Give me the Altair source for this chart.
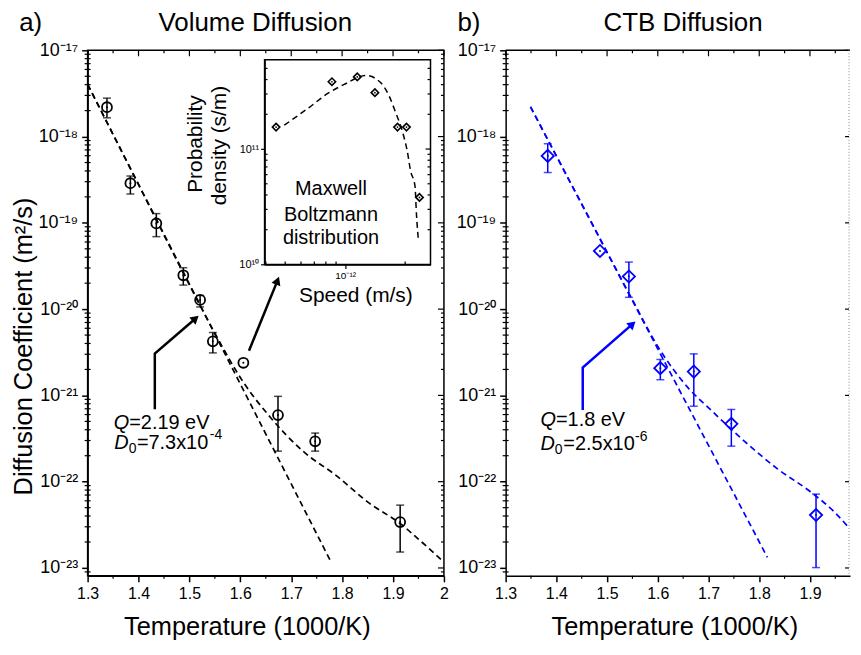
import altair as alt
import pandas as pd

FONT = "Liberation Sans"
BLUE = "#0000ff"

# ---------------- data: panel a (Volume diffusion) ----------------
a_T = [1.338, 1.384, 1.435, 1.488, 1.521, 1.546, 1.606, 1.674, 1.747, 1.914]
a_D = [2.19e-18, 2.88e-19, 9.84e-20, 2.47e-20, 1.28e-20, 4.23e-21, 2.39e-21, 5.92e-22, 2.94e-22, 3.40e-23]
a_lo = [1.65e-18, 2.16e-19, 6.92e-20, 1.90e-20, 1.06e-20, 3.11e-21, None, 2.26e-22, 2.26e-22, 1.53e-23]
a_hi = [2.79e-18, 3.49e-19, 1.28e-19, 3.02e-20, 1.44e-20, 5.36e-21, None, 9.75e-22, 3.66e-22, 5.35e-23]
a_fit_T = [1.300, 1.777]
a_fit_D = [4.03e-18, 1.21e-23]
a_curve_T = [1.300, 1.400, 1.500, 1.550, 1.606, 1.658, 1.723, 1.789, 1.854, 1.913, 1.958, 1.994]
a_curve_D = [4.03e-18, 2.77e-19, 1.91e-20, 5.25e-21, 1.42e-21, 5.66e-22, 2.26e-22, 1.17e-22,
             5.60e-23, 3.31e-23, 1.96e-23, 1.26e-23]
a_arrow1_T = [1.432, 1.432, 1.512]
a_arrow1_D = [6.93e-22, 3.05e-21, 7.80e-21]
a_arrow2_T = [1.617, 1.673]
a_arrow2_D = [3.30e-21, 2.14e-20]

# ---------------- data: panel b (CTB diffusion) ----------------
b_T = [1.383, 1.486, 1.543, 1.605, 1.671, 1.745, 1.912]
b_D = [5.97e-19, 4.72e-20, 2.39e-20, 2.07e-21, 1.89e-21, 4.68e-22, 4.11e-23]
b_lo = [3.83e-19, None, 1.37e-20, 1.52e-21, 7.50e-22, 2.58e-22, 1.01e-23]
b_hi = [8.26e-19, None, 3.51e-20, 2.61e-21, 3.03e-21, 6.87e-22, 7.18e-23]
b_fit_T = [1.349, 1.816]
b_fit_D = [2.21e-18, 1.33e-23]
b_curve_T = [1.349, 1.450, 1.550, 1.600, 1.659, 1.705, 1.771, 1.836, 1.901, 1.947, 1.977]
b_curve_D = [2.21e-18, 1.66e-19, 1.28e-20, 3.70e-21, 1.24e-21, 6.76e-22, 2.94e-22, 1.41e-22,
             7.64e-23, 4.53e-23, 2.92e-23]
b_arrow_T = [1.452, 1.452, 1.550]
b_arrow_D = [6.76e-22, 2.10e-21, 6.70e-21]

# ---------------- data: inset (Maxwell-Boltzmann) ----------------
ins_v = [4.50e-13, 8.58e-13, 1.15e-12, 1.41e-12, 1.83e-12, 2.03e-12, 2.36e-12]
ins_p = [1.55e11, 3.83e11, 4.22e11, 3.08e11, 1.55e11, 1.55e11, 3.81e10]
ins_curve_v = [4.95e-13, 6.61e-13, 8.17e-13, 9.89e-13, 1.27e-12, 1.51e-12, 1.66e-12, 1.79e-12,
               1.94e-12, 2.05e-12, 2.13e-12, 2.24e-12, 2.28e-12, 2.33e-12]
ins_curve_p = [1.61e11, 2.30e11, 3.03e11, 3.63e11, 4.34e11, 3.75e11, 2.89e11, 2.08e11,
               1.41e11, 9.53e10, 6.44e10, 4.80e10, 2.67e10, 1.63e10]

# ---------------- tick positions ----------------
xa_major = [1.3, 1.4, 1.5, 1.6, 1.7, 1.8, 1.9, 2.0]
xb_major = [1.3, 1.4, 1.5, 1.6, 1.7, 1.8, 1.9]
x_minor = [1.35, 1.45, 1.55, 1.65, 1.75, 1.85, 1.95]
y_major = [1e-23, 1e-22, 1e-21, 1e-20, 1e-19, 1e-18, 1e-17]
YMIN, YMAX = 8.11e-24, 1e-17
y_minor = [k * 10.0 ** n for n in range(-24, -17) for k in range(2, 10)]
y_minor = [v for v in y_minor if YMIN < v < YMAX]
ins_y_major = [1e10, 1e11]
ins_y_minor = [k * 1e10 for k in range(2, 10)] + [k * 1e11 for k in range(2, 6)]
ins_x_minor = [4e-13, 5e-13, 6e-13, 7e-13, 8e-13, 9e-13, 2e-12]

W_A, W_B, H = 358, 346, 528
F = H / 535.0  # vertical factor for in-plot pixel positions
ONE = pd.DataFrame({"a": [0]})

SUP = str.maketrans("-0123456789", "⁻⁰¹²³⁴⁵⁶⁷⁸⁹")


def pow_expr(exps):
    s = ""
    for e in exps:
        s += f"round(log(datum.value)/LN10) == {e} ? '10{str(e).translate(SUP)}' : "
    return s + "''"


YS = alt.Scale(type="log", domain=[YMIN, YMAX], nice=False)
YAX = alt.Axis(values=y_major, labelExpr=pow_expr(range(-23, -16)), labelFontSize=18,
               labelFont=FONT, tickSize=6, tickWidth=1.5, domainWidth=1.5, labelPadding=4,
               title=None, grid=False, labelFlush=False, labelOverlap=False, orient="left")


def xaxis(vals):
    return alt.Axis(values=vals, format=".1~f", labelFontSize=16, labelFont=FONT, tickSize=6,
                    tickWidth=1.5, domainWidth=1.5, labelPadding=4, title=None, grid=False,
                    labelFlush=False, labelOverlap=False, orient="bottom")


SC = {
    "a": (alt.Scale(domain=[1.3, 2.0], nice=False, zero=False), xaxis(xa_major), YS, YAX),
    "b": (alt.Scale(domain=[1.3, 1.979], nice=False, zero=False), xaxis(xb_major), YS, YAX),
    "i": (
        alt.Scale(type="log", domain=[3.94e-13, 2.68e-12], range=[177.8, 344.5], nice=False),
        alt.Axis(orient="bottom", offset=-(H - 218 * F), values=[1e-12], labelExpr=pow_expr([-12]),
                 labelFontSize=10, labelFont=FONT, tickSize=4, tickWidth=1.2, domainWidth=1.5,
                 labelPadding=2, title=None, grid=False, labelFlush=False),
        alt.Scale(type="log", domain=[1e10, 5.93e11], range=[218 * F, 9.7 * F], nice=False),
        alt.Axis(orient="left", offset=-177.8, values=ins_y_major, labelExpr=pow_expr([10, 11]),
                 labelFontSize=11, labelFont=FONT, tickSize=4, tickWidth=1.2, domainWidth=1.5,
                 labelPadding=2, title=None, grid=False, labelFlush=False),
    ),
}


def X(field, p):
    return alt.X(field, type="quantitative", scale=SC[p][0], axis=SC[p][1], title=None)


def Y(field, p):
    return alt.Y(field, type="quantitative", scale=SC[p][2], axis=SC[p][3], title=None)


def txt(s, x, y, size=20, align="left", angle=0, style="normal", color="black"):
    return alt.Chart(ONE).mark_text(
        text=s, fontSize=size, font=FONT, align=align, baseline="middle", angle=angle,
        fontStyle=style, color=color
    ).encode(x=alt.value(x), y=alt.value(y))


def yrule(vals, x0, x1, p, color="black"):
    return alt.Chart(pd.DataFrame({"v": vals})).mark_rule(color=color, strokeWidth=1.2).encode(
        y=Y("v", p), x=alt.value(x0), x2=alt.value(x1))


def xrule(vals, y0, y1, p, color="black"):
    return alt.Chart(pd.DataFrame({"v": vals})).mark_rule(color=color, strokeWidth=1.2).encode(
        x=X("v", p), y=alt.value(y0), y2=alt.value(y1))


def data_layers(p, color, T, D, lo, hi, fitT, fitD, curT, curD, shape, msize):
    fit = alt.Chart(pd.DataFrame({"T": fitT, "D": fitD})).mark_line(
        color=color, strokeDash=[6, 4], strokeWidth=1.7).encode(x=X("T", p), y=Y("D", p))
    cur = alt.Chart(pd.DataFrame({"T": curT, "D": curD})).mark_line(
        color=color, strokeDash=[6, 4], strokeWidth=1.7, interpolate="monotone").encode(
        x=X("T", p), y=Y("D", p))
    df = pd.DataFrame({"T": T, "D": D, "lo": lo, "hi": hi})
    dfe = df.dropna()
    err = alt.Chart(dfe).mark_rule(color=color, strokeWidth=1.5).encode(
        x=X("T", p), y=Y("lo", p), y2="hi:Q")
    cap_lo = alt.Chart(dfe).mark_tick(color=color, orient="horizontal", size=8, thickness=1.5).encode(
        x=X("T", p), y=Y("lo", p))
    cap_hi = alt.Chart(dfe).mark_tick(color=color, orient="horizontal", size=8, thickness=1.5).encode(
        x=X("T", p), y=Y("hi", p))
    pts = alt.Chart(df).mark_point(shape=shape, filled=False, size=msize, strokeWidth=1.8,
                                   color=color, opacity=1).encode(x=X("T", p), y=Y("D", p))
    dots = alt.Chart(df).mark_point(shape="circle", filled=True, size=4, color=color,
                                    opacity=1).encode(x=X("T", p), y=Y("D", p))
    return [fit, cur, err, cap_lo, cap_hi, pts, dots]


def arrow(p, T, D, color, ang):
    df = pd.DataFrame({"T": T, "D": D, "o": list(range(len(T)))})
    ln = alt.Chart(df).mark_line(color=color, strokeWidth=2.5).encode(
        x=X("T", p), y=Y("D", p), order="o:Q")
    head = alt.Chart(df.tail(1)).mark_point(shape="triangle-up", filled=True, size=90, color=color,
                                            opacity=1, angle=ang).encode(x=X("T", p), y=Y("D", p))
    return [ln, head]


# ---------------- panel a ----------------
a_layers = data_layers("a", "black", a_T, a_D, a_lo, a_hi, a_fit_T, a_fit_D, a_curve_T, a_curve_D,
                       "circle", 100)
a_layers += arrow("a", a_arrow1_T, a_arrow1_D, "black", 49)
a_layers += arrow("a", a_arrow2_T, a_arrow2_D, "black", 22)
a_layers += [
    yrule(y_minor, -3, 3, "a"),
    yrule(y_major, W_A - 6, W_A, "a"),
    yrule(y_minor, W_A - 3, W_A, "a"),
    xrule(xa_major, 0, 6, "a"),
    xrule(x_minor, 0, 3, "a"),
    xrule(x_minor, H, H + 3, "a"),
    alt.Chart(ONE).mark_rect(fillOpacity=0, stroke="black", strokeWidth=1.5).encode(
        x=alt.value(177.8), x2=alt.value(344.5), y=alt.value(9.7 * F), y2=alt.value(218 * F)),
    txt("a)", -68.8, -27, 26),
    txt("Volume Diffusion", 168.5, -27, 26, align="center"),
    txt("Diffusion Coefficient (m²/s)", -63.5, 301.5 * F, 25.5, align="center", angle=270),
    txt("Temperature (1000/K)", 160.5, H + 51, 25.5, align="center"),
    txt("Q", 26.2, 379 * F, 20, style="italic"),
    txt("=2.19 eV", 41.8, 379 * F, 20),
    txt("D", 26.8, 399.7 * F, 20, style="italic"),
    txt("0", 41.2, 399.7 * F + 6, 14),
    txt("=7.3x10", 49.5, 399.7 * F, 20),
    txt("-4", 122.8, 399.7 * F - 8, 14),
    txt("Maxwell", 244.5, 141.3 * F, 20, align="center"),
    txt("Boltzmann", 244.5, 168 * F, 20, align="center"),
    txt("distribution", 244.5, 190.7 * F, 20, align="center"),
    txt("Probability", 108.5, 95.5 * F, 21, align="center", angle=270),
    txt("density (s/m)", 133.5, 97 * F, 21, align="center", angle=270),
    txt("Speed (m/s)", 269.5, 249.7 * F, 21, align="center"),
]
a_main = alt.layer(*a_layers)

# inset
ins_curve = alt.Chart(pd.DataFrame({"v": ins_curve_v, "p": ins_curve_p})).mark_line(
    color="black", strokeDash=[6, 4], strokeWidth=1.5, interpolate="monotone").encode(
    x=X("v", "i"), y=Y("p", "i"), order="v:Q")
ins_df = pd.DataFrame({"v": ins_v, "p": ins_p})
ins_pts = alt.Chart(ins_df).mark_point(shape="diamond", filled=False, size=55, strokeWidth=1.6,
                                       color="black", opacity=1).encode(
    x=X("v", "i"), y=Y("p", "i"))
ins_dots = alt.Chart(ins_df).mark_point(shape="circle", filled=True, size=3, color="black",
                                        opacity=1).encode(x=X("v", "i"), y=Y("p", "i"))
ins_inset = alt.layer(
    ins_curve, ins_pts, ins_dots,
    yrule(ins_y_minor, 177.8, 180.8, "i"),
    yrule(ins_y_minor, 341.5, 344.5, "i"),
    yrule([1e11], 339.5, 344.5, "i"),
    xrule(ins_x_minor, 218 * F - 3, 218 * F, "i"),
)

panel_a = alt.layer(a_main, ins_inset).resolve_scale(
    x="independent", y="independent").resolve_axis(x="independent", y="independent").properties(
    width=W_A, height=H)

# ---------------- panel b ----------------
b_layers = data_layers("b", BLUE, b_T, b_D, b_lo, b_hi, b_fit_T, b_fit_D, b_curve_T, b_curve_D,
                       "diamond", 150)
b_layers += arrow("b", b_arrow_T, b_arrow_D, BLUE, 48)
b_layers += [
    yrule(y_minor, -3, 3, "b"),
    yrule(y_major, W_B - 5, W_B - 1, "b"),
    xrule(xb_major, 0, 6, "b"),
    xrule(x_minor, 0, 3, "b"),
    xrule(x_minor, H, H + 3, "b"),
    alt.Chart(ONE).mark_rule(color="black", strokeWidth=1.5).encode(
        x=alt.value(0), x2=alt.value(W_B), y=alt.value(0)),
    alt.Chart(ONE).mark_rule(color="#888888", strokeWidth=1, strokeDash=[1, 2]).encode(
        x=alt.value(W_B - 1), y=alt.value(0), y2=alt.value(H)),
    txt("b)", -48.4, -27, 26),
    txt("CTB Diffusion", 178.3, -27, 26, align="center"),
    txt("Temperature (1000/K)", 170, H + 51, 25.5, align="center"),
    txt("Q", 35, 376.3 * F, 20, style="italic"),
    txt("=1.8 eV", 50.6, 376.3 * F, 20),
    txt("D", 35, 401.3 * F, 20, style="italic"),
    txt("0", 49.4, 401.3 * F + 6, 14),
    txt("=2.5x10", 58, 401.3 * F, 20),
    txt("-6", 130, 401.3 * F - 8, 14),
]
panel_b = alt.layer(*b_layers).properties(width=W_B, height=H,
                                          view=alt.ViewBackground(strokeOpacity=0))

chart = alt.hconcat(panel_a, panel_b, spacing=6).properties(
    padding={"left": 3, "top": 0, "right": 0, "bottom": 0}
).configure_view(stroke="black", strokeWidth=1.5).configure_axis(
    domainColor="black", tickColor="black", labelColor="black", labelFont=FONT
)

chart.save("out.html", embed_options={"renderer": "svg", "actions": False})
